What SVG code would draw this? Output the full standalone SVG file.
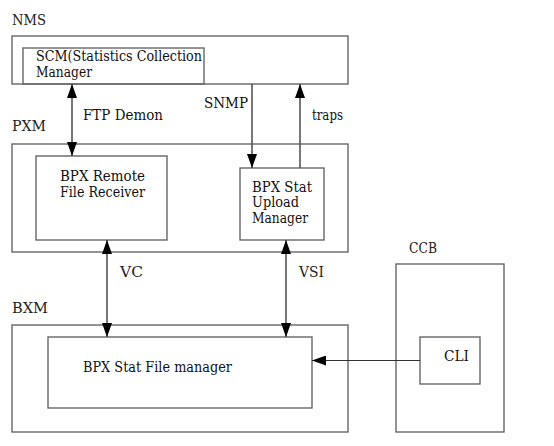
<svg xmlns="http://www.w3.org/2000/svg" width="554" height="446" viewBox="0 0 554 446">
<style>
.box{fill:none;stroke:#666;stroke-width:1.4}
.t{font-family:"DejaVu Serif","Liberation Serif",serif;font-size:14px;fill:#111}
.lbl{font-family:"DejaVu Serif","Liberation Serif",serif;font-size:14px;fill:#222}
.c{fill:none;stroke:#555;stroke-width:1.6}
.thin{fill:none;stroke:#333;stroke-width:1}
</style>
<defs>
<marker id="ah" markerUnits="userSpaceOnUse" markerWidth="14" markerHeight="10" refX="14" refY="5" orient="auto-start-reverse">
<path d="M0,0 L14,5 L0,10 z" fill="#000"/>
</marker>
</defs>
<rect width="554" height="446" fill="#fff"/>
<g id="nms">
<rect class="box" x="12" y="36" width="336" height="48"/>
<text class="lbl" x="12" y="25" textLength="34" lengthAdjust="spacingAndGlyphs">NMS</text>
</g>
<g id="scm">
<rect class="box" x="23" y="48" width="181" height="36"/>
<text class="t" x="36" y="61" textLength="166" lengthAdjust="spacingAndGlyphs">SCM(Statistics Collection</text>
<text class="t" x="36" y="77" textLength="56" lengthAdjust="spacingAndGlyphs">Manager</text>
</g>
<g id="pxm">
<rect class="box" x="12" y="144" width="336" height="108"/>
<text class="lbl" x="12" y="131" textLength="34" lengthAdjust="spacingAndGlyphs">PXM</text>
</g>
<g id="remote">
<rect class="box" x="36" y="156" width="131" height="84"/>
<text class="t" x="60" y="181" textLength="85" lengthAdjust="spacingAndGlyphs">BPX Remote</text>
<text class="t" x="60" y="197" textLength="85" lengthAdjust="spacingAndGlyphs">File Receiver</text>
</g>
<g id="upload">
<rect class="box" x="240" y="168" width="84" height="72"/>
<text class="t" x="252" y="192" textLength="60" lengthAdjust="spacingAndGlyphs">BPX Stat</text>
<text class="t" x="252" y="207" textLength="47" lengthAdjust="spacingAndGlyphs">Upload</text>
<text class="t" x="252" y="223" textLength="56" lengthAdjust="spacingAndGlyphs">Manager</text>
</g>
<g id="bxm">
<rect class="box" x="12" y="325" width="336" height="107"/>
<text class="lbl" x="12" y="313" textLength="36" lengthAdjust="spacingAndGlyphs">BXM</text>
</g>
<g id="filemgr">
<rect class="box" x="48" y="337" width="264" height="71"/>
<text class="t" x="83" y="372" textLength="149" lengthAdjust="spacingAndGlyphs">BPX Stat File manager</text>
</g>
<g id="ccb">
<rect class="box" x="396" y="264" width="108" height="168"/>
<text class="lbl" x="409" y="253" textLength="28" lengthAdjust="spacingAndGlyphs">CCB</text>
</g>
<g id="cli">
<rect class="box" x="420" y="337" width="60" height="47"/>
<text class="t" x="444" y="361" textLength="25" lengthAdjust="spacingAndGlyphs">CLI</text>
</g>
<g id="connectors">
<line class="c" x1="72" y1="84" x2="72" y2="156" marker-start="url(#ah)" marker-end="url(#ah)"/>
<line class="c" x1="252" y1="84" x2="252" y2="168" marker-end="url(#ah)"/>
<line class="c" x1="300" y1="168" x2="300" y2="84" marker-end="url(#ah)"/>
<line class="c" x1="107" y1="240" x2="107" y2="337" marker-start="url(#ah)" marker-end="url(#ah)"/>
<line class="c" x1="286" y1="240" x2="286" y2="337" stroke-width="1.1" marker-start="url(#ah)" marker-end="url(#ah)"/>
<line class="thin" x1="420" y1="360.5" x2="312" y2="360.5" marker-end="url(#ah)"/>
<text class="t" x="83" y="120" textLength="80" lengthAdjust="spacingAndGlyphs">FTP Demon</text>
<text class="t" x="204" y="108" textLength="44" lengthAdjust="spacingAndGlyphs">SNMP</text>
<text class="t" x="312" y="120" textLength="31" lengthAdjust="spacingAndGlyphs">traps</text>
<text class="lbl" x="120" y="277" textLength="23" lengthAdjust="spacingAndGlyphs">VC</text>
<text class="lbl" x="299" y="277" textLength="25" lengthAdjust="spacingAndGlyphs">VSI</text>
</g>
</svg>
